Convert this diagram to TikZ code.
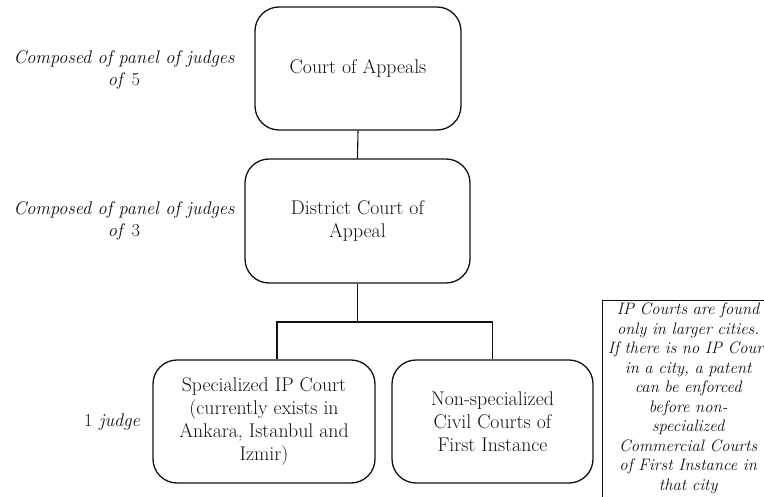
\documentclass[tikz,border=0pt]{standalone}
\usetikzlibrary{positioning}
\definecolor{Ink}{HTML}{111111}
\tikzset{
  court box/.style={draw=Ink, line width=1.3pt, rounded corners=24pt,
    align=center, text=Ink, font=\fontsize{19.8}{23}\selectfont, inner sep=4pt},
  court link/.style={draw=Ink, line width=1.1pt},
  panel note/.style={align=center, text=Ink, font=\itshape\fontsize{18.3}{21.5}\selectfont},
  side note/.style={align=center, text=Ink,
    font=\itshape\fontsize{16.6}{19.5}\selectfont, text width=166pt,
    inner xsep=3pt, inner ysep=3pt},
  note frame/.style={draw=Ink, line width=0.9pt},
}

\begin{document}
\begin{tikzpicture}[x=1pt, y=-1pt]
  \useasboundingbox (0,0) rectangle (764,497);

  % court hierarchy
  \node[court box, minimum width=206pt, minimum height=123pt] (appeals)
    at (358,68.5) {Court of Appeals};
  \node[court box, minimum width=225pt, minimum height=124pt] (district)
    at (357.5,221) {District Court of\\Appeal};
  \node[court box, minimum width=222pt, minimum height=123pt] (ipcourt)
    at (264,421.5) {Specialized IP Court\\(currently exists in\\Ankara, Istanbul and\\Izmir)};
  \node[court box, minimum width=201pt, minimum height=123pt] (civilcourt)
    at (492.5,421.5) {Non-specialized\\Civil Courts of\\First Instance};

  % number of judges
  \node[panel note] (appealsPanel) at (124,70) {Composed of panel of judges\\of \textup{5}};
  \node[panel note] (districtPanel) at (124,221) {Composed of panel of judges\\of \textup{3}};
  \node[panel note] (firstPanel) at (112,422) {\textup{1} judge};

  \node[side note, anchor=north west] (ipNote) at (602,300)
    {IP Courts are found\\only in larger cities.\\If there is no IP Court\\in a city, a patent\\can be enforced\\before non-\\specialized\\Commercial Courts\\of First Instance in\\that city};
  \draw[note frame] (ipNote.north west) rectangle ([yshift=-12pt]ipNote.south east);

  \coordinate (split) at (357.5,322);
  \coordinate (ipTop) at ([xshift=13pt]ipcourt.north);

  \draw[court link] (appeals.south) -- (district.north);
  \draw[court link] (district.south) -- (split);
  \draw[court link] (ipTop) |- (civilcourt.north |- split) -- (civilcourt.north);
\end{tikzpicture}
\end{document}
